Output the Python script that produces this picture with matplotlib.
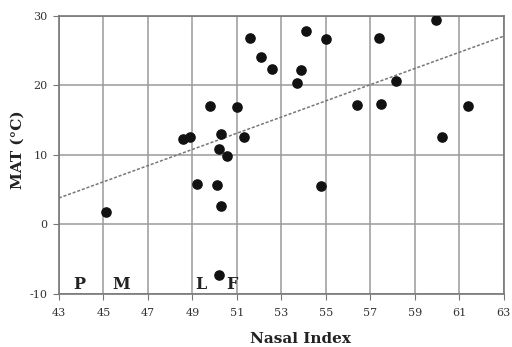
import matplotlib
matplotlib.use('Agg')
import matplotlib.pyplot as plt
import numpy as np

# Nasal index vs mean annual temperature
nasal_index = [45.1, 48.6, 48.9, 49.8, 49.2, 50.1, 50.2, 50.55, 50.3, 50.3, 50.2,
               51.0, 51.3, 51.6, 52.1, 52.6, 53.9, 53.7, 54.1, 55.0, 54.8,
               56.4, 57.4, 57.5, 58.15, 59.95, 60.2, 61.4]
mat = [1.8, 12.3, 12.6, 17.1, 5.8, 5.7, 10.9, 9.9, 13.0, 2.7, -7.3,
       16.9, 12.6, 26.8, 24.1, 22.4, 22.2, 20.4, 27.9, 26.7, 5.6,
       17.2, 26.8, 17.3, 20.6, 29.4, 12.6, 17.0]

# regression line
line_x = [43, 63]
line_y = [3.8, 27.1]

# group letters along the bottom
letters = ['P', 'M', 'L', 'F']
letter_x = [43.9, 45.8, 49.4, 50.8]
letter_y = -8.6

plt.rcParams['font.family'] = ['DejaVu Serif']
plt.rcParams['axes.unicode_minus'] = False

fig = plt.figure(figsize=(5.12, 3.47), dpi=100)
ax = fig.add_axes([0.115, 0.153, 0.869, 0.801])

ax.plot(line_x, line_y, linestyle=(0, (2, 1.2)), color='#777777', linewidth=1.1, zorder=2)
ax.scatter(nasal_index, mat, s=44, color='#111111', zorder=3)

for t, lx in zip(letters, letter_x):
    ax.text(lx, letter_y, t, fontsize=11.5, fontweight='bold', ha='center', va='center',
            color='#222222')

ax.set_xlim(43, 63)
ax.set_ylim(-10, 30)
ax.set_xticks(np.arange(43, 64, 2))
ax.set_yticks([-10, 0, 10, 20, 30])
ax.grid(color='#9a9a9a', linewidth=1.1)
ax.set_axisbelow(True)
for s in ax.spines.values():
    s.set_color('#777777')
    s.set_linewidth(1.2)
ax.tick_params(labelsize=8, colors='#333333', length=4, color='#777777')
ax.tick_params(axis='x', pad=6)
ax.tick_params(axis='y', pad=4)

fig.text(300 / 512, 1 - 339 / 347, 'Nasal Index', fontsize=11, fontweight='bold',
         color='#222222', ha='center', va='center')
fig.text(18 / 512, 1 - 150 / 347, 'MAT (°C)', fontsize=11, fontweight='bold',
         color='#222222', ha='center', va='center', rotation=90)

fig.savefig('out.png', dpi=100)
